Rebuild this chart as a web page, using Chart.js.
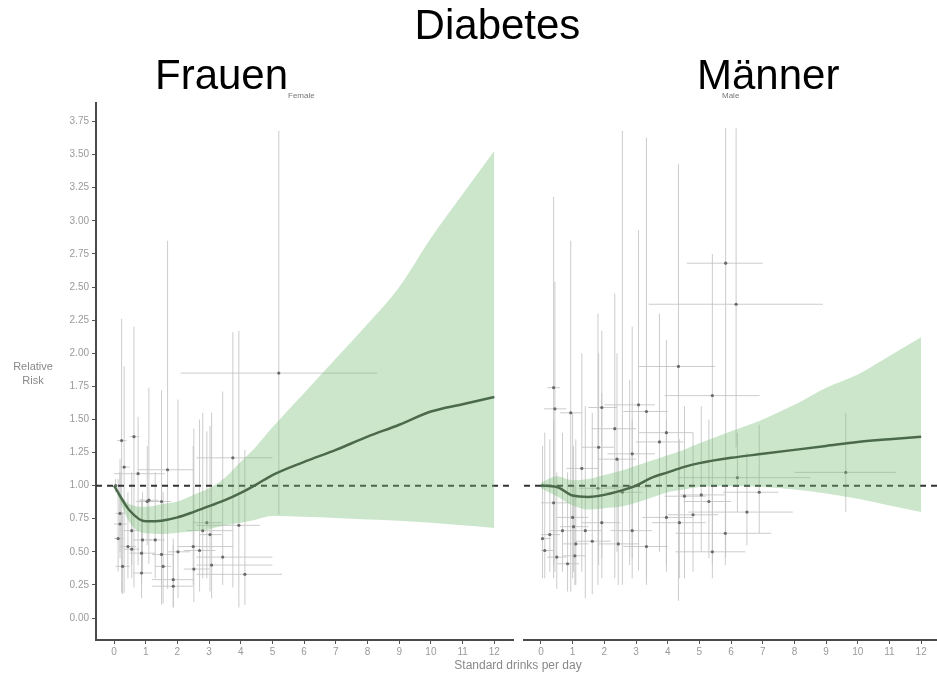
<!DOCTYPE html>
<html>
<head>
<meta charset="utf-8">
<script src="https://cdn.jsdelivr.net/npm/chart.js@4.4.1/dist/chart.umd.min.js"></script>
<style>
    body { margin: 0; background: #fff; }
    #wrap { position: relative; width: 937px; height: 673px; overflow: hidden; font-family: 'Liberation Sans', Arial, sans-serif; }
    #wrap canvas { position: absolute; top: 0; }
    .txt { position: absolute; white-space: nowrap; line-height: 1; }
</style>
</head>
<body>
<div id="wrap">
    <canvas id="female" width="520" height="673" style="left:0"></canvas>
    <canvas id="male" width="421" height="673" style="left:520px"></canvas>
    <div class="txt" style="left:0;width:995px;top:4px;font-size:42px;text-align:center;color:#000">Diabetes</div>
    <div class="txt" style="left:155px;top:54px;font-size:42px;color:#000">Frauen</div>
    <div class="txt" style="left:288px;top:92px;font-size:8px;color:#777">Female</div>
    <div class="txt" style="left:697px;top:54px;font-size:42px;color:#000">Männer</div>
    <div class="txt" style="left:722px;top:92px;font-size:8px;color:#777">Male</div>
    <div class="txt" style="left:0;width:66px;top:359px;font-size:11px;line-height:14px;text-align:center;color:#888">Relative<br>Risk</div>
    <div class="txt" style="left:418px;width:200px;top:659px;font-size:12px;text-align:center;color:#888">Standard drinks per day</div>
</div>
<script>
// Tick labels.
const xTicks = [0, 1, 2, 3, 4, 5, 6, 7, 8, 9, 10, 11, 12];
const yTicks = [0, 0.25, 0.5, 0.75, 1, 1.25, 1.5, 1.75, 2, 2.25, 2.5, 2.75, 3, 3.25, 3.5, 3.75];

// Pooled dose-response curve, women.
const femCurveX = [0, 0.5, 1, 1.5, 2, 2.5, 3, 3.5, 4, 4.5, 5, 6, 7, 8, 9, 10, 11, 12];
const femRR = [1.0, 0.81, 0.73, 0.735, 0.76, 0.80, 0.845, 0.89, 0.945, 1.01, 1.08, 1.18, 1.27, 1.37, 1.46, 1.56, 1.615, 1.67];
const femLo = [1.0, 0.72, 0.64, 0.635, 0.645, 0.655, 0.67, 0.70, 0.72, 0.745, 0.77, 0.765, 0.755, 0.745, 0.735, 0.72, 0.70, 0.68];
const femHi = [1.0, 0.86, 0.84, 0.86, 0.88, 0.93, 0.98, 1.06, 1.18, 1.30, 1.44, 1.70, 1.96, 2.22, 2.50, 2.87, 3.20, 3.53];

// Pooled dose-response curve, men.
const maleCurveX = [0, 0.5, 1, 1.5, 2, 2.5, 3, 3.5, 4, 4.5, 5, 6, 7, 8, 9, 10, 11, 12];
const maleRR = [1.0, 0.99, 0.925, 0.915, 0.93, 0.96, 1.0, 1.06, 1.10, 1.14, 1.17, 1.21, 1.24, 1.27, 1.30, 1.33, 1.35, 1.37];
const maleLo = [0.98, 0.92, 0.85, 0.82, 0.83, 0.84, 0.87, 0.91, 0.95, 0.97, 0.99, 0.995, 0.99, 0.97, 0.94, 0.90, 0.85, 0.80];
const maleHi = [1.02, 1.07, 1.04, 1.05, 1.08, 1.11, 1.15, 1.19, 1.23, 1.27, 1.32, 1.41, 1.50, 1.61, 1.74, 1.84, 1.98, 2.12];

// Single study estimates, women (drinks, drinks range, RR, RR interval).
const femX    = [5.2, 3.75, 3.94, 4.13, 0.24, 0.63, 0.32, 0.76, 1.69, 1.1, 1.5, 2.93, 3.03, 3.43, 3.08, 2.52, 2.02, 1.87, 1.87, 1.55, 1.5, 1.3, 0.87, 0.87, 0.27, 0.44, 0.13, 0.56, 0.56, 0.9, 0.19, 0.19, 1.05, 2.5, 2.7, 2.8, 0.05];
const femXLo  = [2.1, 2.6, 2.6, 2.6, 0.1, 0.5, 0.2, 0.0, 0.76, 0.8, 1.2, 2.5, 2.7, 2.6, 2.6, 2.2, 1.7, 1.2, 1.2, 1.3, 1.2, 1.0, 0.6, 0.5, 0.05, 0.2, 0.0, 0.3, 0.3, 0.6, 0.05, 0.0, 0.7, 2.0, 2.2, 2.3, 0.0];
const femXHi  = [8.3, 5.0, 4.6, 5.3, 0.4, 0.8, 0.5, 1.6, 2.5, 1.4, 1.8, 3.4, 3.4, 5.0, 5.0, 3.0, 2.4, 2.5, 2.5, 1.8, 1.9, 1.6, 1.2, 1.3, 0.5, 0.7, 0.3, 0.8, 0.8, 1.2, 0.35, 0.4, 1.4, 3.75, 3.2, 3.75, 0.2];
const femY    = [1.85, 1.21, 0.70, 0.33, 1.34, 1.37, 1.14, 1.09, 1.12, 0.89, 0.88, 0.72, 0.63, 0.46, 0.40, 0.37, 0.50, 0.29, 0.24, 0.39, 0.48, 0.59, 0.34, 0.49, 0.39, 0.54, 0.60, 0.52, 0.66, 0.59, 0.79, 0.71, 0.88, 0.54, 0.51, 0.66, 1.0];
const femYLo  = [0.78, 0.23, 0.08, 0.10, 0.19, 0.23, 0.19, 0.40, 0.22, 0.41, 0.10, 0.30, 0.20, 0.25, 0.15, 0.12, 0.15, 0.08, 0.08, 0.11, 0.25, 0.30, 0.15, 0.25, 0.18, 0.30, 0.35, 0.30, 0.40, 0.35, 0.50, 0.45, 0.55, 0.25, 0.20, 0.30, 0.95];
const femYHi  = [3.68, 2.16, 2.17, 1.27, 2.26, 2.20, 1.90, 1.52, 2.85, 1.74, 1.72, 1.41, 1.45, 1.71, 1.55, 1.43, 1.65, 0.60, 0.55, 0.95, 1.00, 1.10, 0.70, 0.90, 0.80, 0.95, 1.05, 0.85, 1.10, 0.95, 1.20, 1.10, 1.30, 1.30, 1.50, 1.55, 1.05];

// Single study estimates, men.
const maleX   = [5.83, 6.16, 4.34, 5.41, 0.4, 0.44, 0.94, 1.92, 3.08, 3.33, 2.57, 3.96, 1.82, 2.33, 3.74, 2.88, 2.4, 1.29, 6.2, 9.62, 6.89, 6.5, 5.82, 5.41, 5.06, 5.3, 4.8, 4.37, 3.96, 4.53, 3.33, 2.88, 2.44, 1.62, 1.1, 0.84, 1.07, 0.5, 0.12, 0.28, 0.05, 1.03, 0.68, 1.92, 2.8, 1.8, 0.4, 1.0, 1.4, 0.05];
const maleXLo = [4.6, 3.4, 3.1, 3.9, 0.2, 0.1, 0.6, 1.5, 2.0, 2.6, 2.0, 3.1, 1.3, 1.6, 3.0, 2.1, 1.8, 0.8, 4.3, 8.0, 5.75, 4.65, 4.25, 4.25, 4.4, 4.5, 4.0, 3.5, 3.2, 3.9, 2.6, 2.2, 1.8, 1.1, 0.7, 0.5, 0.7, 0.2, 0.0, 0.0, 0.0, 0.6, 0.3, 1.3, 2.0, 1.2, 0.0, 0.5, 0.9, 0.0];
const maleXHi = [7.0, 8.9, 5.5, 6.9, 0.6, 0.8, 1.3, 2.4, 3.6, 4.0, 3.2, 4.8, 2.3, 3.0, 4.5, 3.6, 3.0, 1.8, 8.5, 11.2, 7.5, 7.95, 7.27, 6.45, 5.8, 6.0, 5.6, 5.2, 4.8, 5.2, 4.0, 3.5, 3.1, 2.2, 1.5, 1.2, 1.4, 0.8, 0.4, 0.6, 0.3, 1.5, 1.1, 2.5, 3.5, 2.4, 0.9, 1.5, 1.9, 0.2];
const maleY   = [2.68, 2.37, 1.90, 1.68, 1.74, 1.58, 1.55, 1.59, 1.61, 1.56, 0.95, 1.40, 1.29, 1.43, 1.33, 1.24, 1.20, 1.13, 1.06, 1.10, 0.95, 0.80, 0.64, 0.50, 0.93, 0.88, 0.78, 0.72, 0.76, 0.92, 0.54, 0.66, 0.56, 0.58, 0.56, 0.41, 0.47, 0.46, 0.51, 0.63, 0.60, 0.69, 0.66, 0.72, 0.99, 0.98, 0.87, 0.76, 0.66, 1.0];
const maleYLo = [0.46, 1.29, 0.13, 0.41, 0.30, 0.35, 0.20, 0.45, 0.36, 0.30, 0.25, 0.40, 0.40, 0.30, 0.50, 0.45, 0.50, 0.35, 0.80, 0.80, 0.64, 0.55, 0.40, 0.30, 0.50, 0.45, 0.35, 0.30, 0.35, 0.30, 0.25, 0.30, 0.25, 0.18, 0.25, 0.20, 0.25, 0.22, 0.30, 0.35, 0.30, 0.35, 0.35, 0.30, 0.40, 0.25, 0.40, 0.30, 0.15, 0.97];
const maleYHi = [3.70, 3.70, 3.43, 2.75, 3.18, 2.54, 2.85, 2.17, 2.93, 3.63, 3.68, 2.10, 2.00, 2.45, 2.30, 2.20, 2.00, 2.00, 1.40, 1.55, 1.46, 1.25, 1.00, 1.00, 1.60, 1.50, 1.40, 1.35, 1.50, 1.60, 1.30, 1.50, 1.20, 1.55, 1.35, 1.10, 1.00, 1.10, 1.40, 1.35, 1.30, 1.30, 1.40, 1.70, 1.80, 2.30, 1.50, 1.55, 1.60, 1.03];

const toPoints = (xs, ys) => xs.map((x, i) => ({ x: x, y: ys[i] }));

// Draws the grey whiskers of every study, behind all datasets.
const errorBars = {
    id: 'errorBars',
    beforeDatasetsDraw(chart, args, opts) {
        const { ctx, scales: { x, y } } = chart;
        ctx.save();
        ctx.strokeStyle = opts.color;
        ctx.lineWidth = 1;
        opts.x.forEach((xv, i) => {
            const px = x.getPixelForValue(xv);
            const py = y.getPixelForValue(opts.y[i]);
            ctx.beginPath();
            ctx.moveTo(px, y.getPixelForValue(opts.yLo[i]));
            ctx.lineTo(px, y.getPixelForValue(opts.yHi[i]));
            ctx.moveTo(x.getPixelForValue(opts.xLo[i]), py);
            ctx.lineTo(x.getPixelForValue(opts.xHi[i]), py);
            ctx.stroke();
        });
        ctx.restore();
    }
};

function makePanel(canvasId, cfg) {
    const axisFont = { family: "'Liberation Sans', Arial, sans-serif", size: 10 };
    return new Chart(document.getElementById(canvasId), {
        type: 'line',
        data: {
            datasets: [{
                // fitted curve
                data: toPoints(cfg.curveX, cfg.rr),
                borderColor: '#4b6a4b',
                borderWidth: 2.5,
                pointRadius: 0,
                cubicInterpolationMode: 'monotone',
                order: 0
            }, {
                // confidence band, upper edge filled down to the lower edge
                data: toPoints(cfg.curveX, cfg.hi),
                borderWidth: 0,
                pointRadius: 0,
                backgroundColor: 'rgba(120, 190, 120, 0.38)',
                fill: '+1',
                cubicInterpolationMode: 'monotone',
                order: 1
            }, {
                data: toPoints(cfg.curveX, cfg.lo),
                borderWidth: 0,
                pointRadius: 0,
                fill: false,
                cubicInterpolationMode: 'monotone',
                order: 1
            }, {
                // reference line at RR = 1
                data: [{ x: cfg.xMin, y: 1 }, { x: cfg.xMax, y: 1 }],
                borderColor: '#333',
                borderWidth: 2,
                borderDash: [6, 5],
                pointRadius: 0,
                order: 2
            }, {
                // study point estimates
                data: toPoints(cfg.studyX, cfg.studyY),
                showLine: false,
                pointRadius: 1.6,
                pointBackgroundColor: '#6a6a6a',
                pointBorderWidth: 0,
                order: 3
            }]
        },
        options: {
            responsive: false,
            animation: false,
            layout: { padding: cfg.padding },
            plugins: {
                legend: { display: false },
                tooltip: { enabled: false },
                errorBars: {
                    color: 'rgba(195, 195, 195, 0.85)',
                    x: cfg.studyX, xLo: cfg.studyXLo, xHi: cfg.studyXHi,
                    y: cfg.studyY, yLo: cfg.studyYLo, yHi: cfg.studyYHi
                }
            },
            scales: {
                x: {
                    type: 'linear',
                    min: cfg.xMin,
                    max: cfg.xMax,
                    afterBuildTicks: s => { s.ticks = xTicks.map(v => ({ value: v })); },
                    afterFit: s => { s.height = 33; },
                    ticks: { color: '#9a9a9a', font: axisFont, padding: 2, maxRotation: 0 },
                    grid: { drawOnChartArea: false, drawTicks: true, tickLength: 4, color: '#555' },
                    border: { display: true, color: '#4a4a4a', width: 2 }
                },
                y: {
                    type: 'linear',
                    display: cfg.showY,
                    min: -0.166,
                    max: 3.89,
                    afterBuildTicks: s => { s.ticks = yTicks.map(v => ({ value: v })); },
                    afterFit: s => { s.width = cfg.showY ? 96 : 0; },
                    ticks: { color: '#9a9a9a', font: axisFont, padding: 3, callback: v => v.toFixed(2) },
                    grid: { drawOnChartArea: false, drawTicks: true, tickLength: 4, color: '#555' },
                    border: { display: true, color: '#4a4a4a', width: 2 }
                }
            }
        },
        plugins: [errorBars]
    });
}

const femaleChart = makePanel('female', {
    curveX: femCurveX, rr: femRR, lo: femLo, hi: femHi,
    studyX: femX, studyXLo: femXLo, studyXHi: femXHi,
    studyY: femY, studyYLo: femYLo, studyYHi: femYHi,
    xMin: -0.568, xMax: 12.59, showY: true,
    padding: { top: 103, right: 7, bottom: 0, left: 0 }
});

const maleChart = makePanel('male', {
    curveX: maleCurveX, rr: maleRR, lo: maleLo, hi: maleHi,
    studyX: maleX, studyXLo: maleXLo, studyXHi: maleXHi,
    studyY: maleY, studyYLo: maleYLo, studyYHi: maleYHi,
    xMin: -0.535, xMax: 12.5, showY: false,
    padding: { top: 103, right: 0, bottom: 0, left: 2 }
});
</script>
</body>
</html>
